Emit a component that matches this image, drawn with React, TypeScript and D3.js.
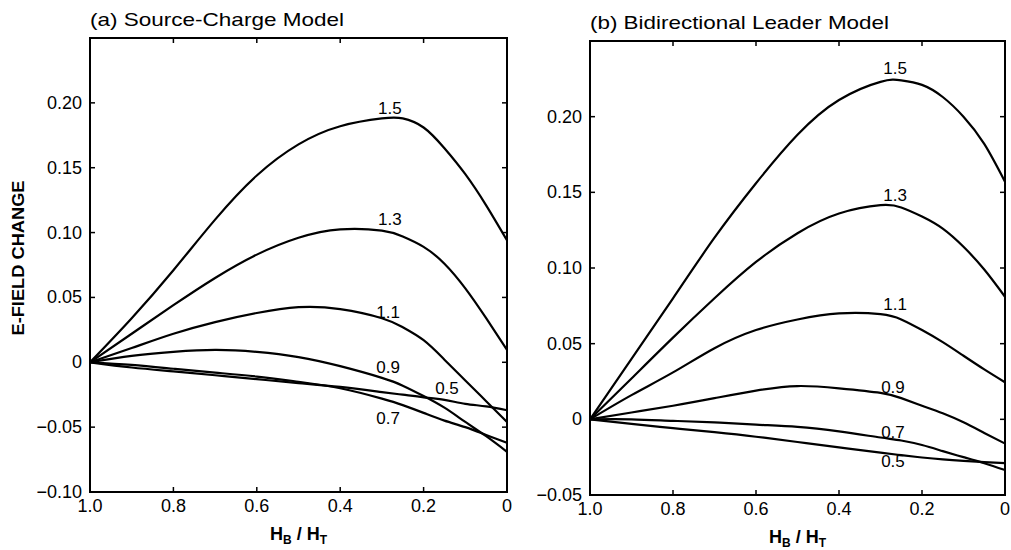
import React from "react";
import * as d3 from "d3";

// H_B / H_T grid (shared by every curve)
const hGrid = [1.0, 0.9, 0.8, 0.7, 0.6, 0.5, 0.4, 0.3, 0.25, 0.2, 0.15, 0.1, 0.05, 0];

// (a) Source-Charge Model
const a15 = [0, 0.034, 0.071, 0.110, 0.144, 0.168, 0.182, 0.188, 0.188, 0.181, 0.165, 0.145, 0.121, 0.094];
const a13 = [0, 0.022, 0.044, 0.065, 0.083, 0.096, 0.1025, 0.1015, 0.097, 0.089, 0.076, 0.057, 0.034, 0.0095];
const a11 = [0, 0.011, 0.022, 0.031, 0.038, 0.0425, 0.041, 0.034, 0.027, 0.017, 0.002, -0.014, -0.030, -0.046];
const a09 = [0, 0.005, 0.008, 0.0095, 0.008, 0.004, -0.003, -0.012, -0.018, -0.026, -0.035, -0.046, -0.057, -0.069];
const a07 = [0, -0.002, -0.005, -0.008, -0.011, -0.015, -0.020, -0.028, -0.033, -0.039, -0.045, -0.050, -0.056, -0.062];
const a05 = [0, -0.004, -0.007, -0.010, -0.013, -0.016, -0.019, -0.023, -0.025, -0.027, -0.029, -0.032, -0.034, -0.037];

// (b) Bidirectional Leader Model
const b15 = [0, 0.040, 0.080, 0.120, 0.156, 0.188, 0.211, 0.223, 0.224, 0.221, 0.213, 0.200, 0.182, 0.157];
const b13 = [0, 0.027, 0.054, 0.080, 0.104, 0.123, 0.136, 0.1415, 0.140, 0.134, 0.126, 0.114, 0.099, 0.081];
const b11 = [0, 0.016, 0.031, 0.047, 0.059, 0.066, 0.0700, 0.0695, 0.066, 0.059, 0.051, 0.042, 0.033, 0.0245];
const b09 = [0, 0.0045, 0.009, 0.014, 0.019, 0.022, 0.0205, 0.0175, 0.014, 0.009, 0.004, -0.002, -0.009, -0.016];
const b07 = [0, 0.000, -0.001, -0.002, -0.0035, -0.005, -0.008, -0.012, -0.014, -0.017, -0.021, -0.025, -0.029, -0.0335];
const b05 = [0, -0.003, -0.0058, -0.0085, -0.0115, -0.015, -0.0185, -0.022, -0.0237, -0.0252, -0.0265, -0.0275, -0.0283, -0.029];

const seriesNames = ["1.5", "1.3", "1.1", "0.9", "0.7", "0.5"];
const seriesA = [a15, a13, a11, a09, a07, a05];
const seriesB = [b15, b13, b11, b09, b07, b05];

// curve label anchors [h, value]
const labelsA: [number, number][] = [[0.281, 0.196], [0.281, 0.110], [0.285, 0.038], [0.285, -0.0037], [0.285, -0.043], [0.144, -0.020]];
const labelsB: [number, number][] = [[0.265, 0.232], [0.265, 0.148], [0.265, 0.0757], [0.270, 0.0213], [0.270, -0.0084], [0.270, -0.028]];

const xTicks = [1.0, 0.8, 0.6, 0.4, 0.2, 0];
const xTickLabels = ["1.0", "0.8", "0.6", "0.4", "0.2", "0"];
const yTicksA = [-0.10, -0.05, 0, 0.05, 0.10, 0.15, 0.20];
const yTickLabelsA = ["\u22120.10", "\u22120.05", "0", "0.05", "0.10", "0.15", "0.20"];
const yTicksB = [-0.05, 0, 0.05, 0.10, 0.15, 0.20];
const yTickLabelsB = ["\u22120.05", "0", "0.05", "0.10", "0.15", "0.20"];

const FONT = "'Liberation Sans', Arial, Helvetica, sans-serif";

type PanelProps = {
  title: string;
  titleLen: number;
  x0: number; x1: number; yTop: number; yBot: number;
  yDomain: [number, number];
  series: number[][];
  labels: [number, number][];
  yTicks: number[];
  yTickLabels: string[];
};

function Panel(p: PanelProps) {
  const x = d3.scaleLinear().domain([1, 0]).range([p.x0, p.x1]);
  const y = d3.scaleLinear().domain(p.yDomain).range([p.yBot, p.yTop]);
  const line = d3
    .line<number>()
    .x((_, i) => x(hGrid[i]))
    .y((d) => y(d))
    .curve(d3.curveNatural);
  const tl = 5;
  return (
    <g fontFamily={FONT}>
      <text x={p.x0} y={p.yTop - 12} fontSize={19} textLength={p.titleLen} lengthAdjust="spacingAndGlyphs">
        {p.title}
      </text>
      {p.series.map((s, i) => (
        <path key={i} d={line(s) || ""} fill="none" stroke="#000" strokeWidth={2.2} strokeLinejoin="round" />
      ))}
      {p.labels.map((l, i) => (
        <text key={i} x={x(l[0])} y={y(l[1])} fontSize={17} textAnchor="middle" dominantBaseline="central">
          {seriesNames[i]}
        </text>
      ))}
      {xTicks.map((t, i) => (
        <g key={i}>
          <line x1={x(t)} x2={x(t)} y1={p.yBot} y2={p.yBot - tl} stroke="#000" strokeWidth={1.5} />
          <line x1={x(t)} x2={x(t)} y1={p.yTop} y2={p.yTop + tl} stroke="#000" strokeWidth={1.5} />
          <text x={x(t)} y={p.yBot + 20} fontSize={18} textAnchor="middle">
            {xTickLabels[i]}
          </text>
        </g>
      ))}
      {p.yTicks.map((t, i) => (
        <g key={i}>
          <line x1={p.x0} x2={p.x0 + tl} y1={y(t)} y2={y(t)} stroke="#000" strokeWidth={1.5} />
          <line x1={p.x1} x2={p.x1 - tl} y1={y(t)} y2={y(t)} stroke="#000" strokeWidth={1.5} />
          <text x={p.x0 - 8} y={y(t)} fontSize={18} textAnchor="end" dominantBaseline="central">
            {p.yTickLabels[i]}
          </text>
        </g>
      ))}
      <rect x={p.x0} y={p.yTop} width={p.x1 - p.x0} height={p.yBot - p.yTop} fill="none" stroke="#000" strokeWidth={2} />
      <text x={(p.x0 + p.x1) / 2} y={p.yBot + 48} fontSize={18} fontWeight="bold" textAnchor="middle">
        H<tspan fontSize={12} dy={4}>B</tspan>
        <tspan dy={-4}> / H</tspan>
        <tspan fontSize={12} dy={4}>T</tspan>
      </text>
    </g>
  );
}

export default function App() {
  return (
    <svg width={1011} height={550} style={{ position: "absolute", left: 0, top: 0, background: "#fff" }}>
      <rect width={1011} height={550} fill="#fff" />
      <Panel
        title="(a) Source-Charge Model"
        titleLen={254}
        x0={90} x1={507} yTop={38} yBot={492}
        yDomain={[-0.10, 0.25]}
        series={seriesA}
        labels={labelsA}
        yTicks={yTicksA}
        yTickLabels={yTickLabelsA}
      />
      <Panel
        title="(b) Bidirectional Leader Model"
        titleLen={299}
        x0={590} x1={1005} yTop={41} yBot={495}
        yDomain={[-0.05, 0.25]}
        series={seriesB}
        labels={labelsB}
        yTicks={yTicksB}
        yTickLabels={yTickLabelsB}
      />
      <text
        transform="translate(24,258) rotate(-90)"
        fontFamily={FONT}
        fontSize={17}
        fontWeight="bold"
        textAnchor="middle"
        textLength={155}
        lengthAdjust="spacingAndGlyphs"
      >
        E-FIELD CHANGE
      </text>
    </svg>
  );
}
